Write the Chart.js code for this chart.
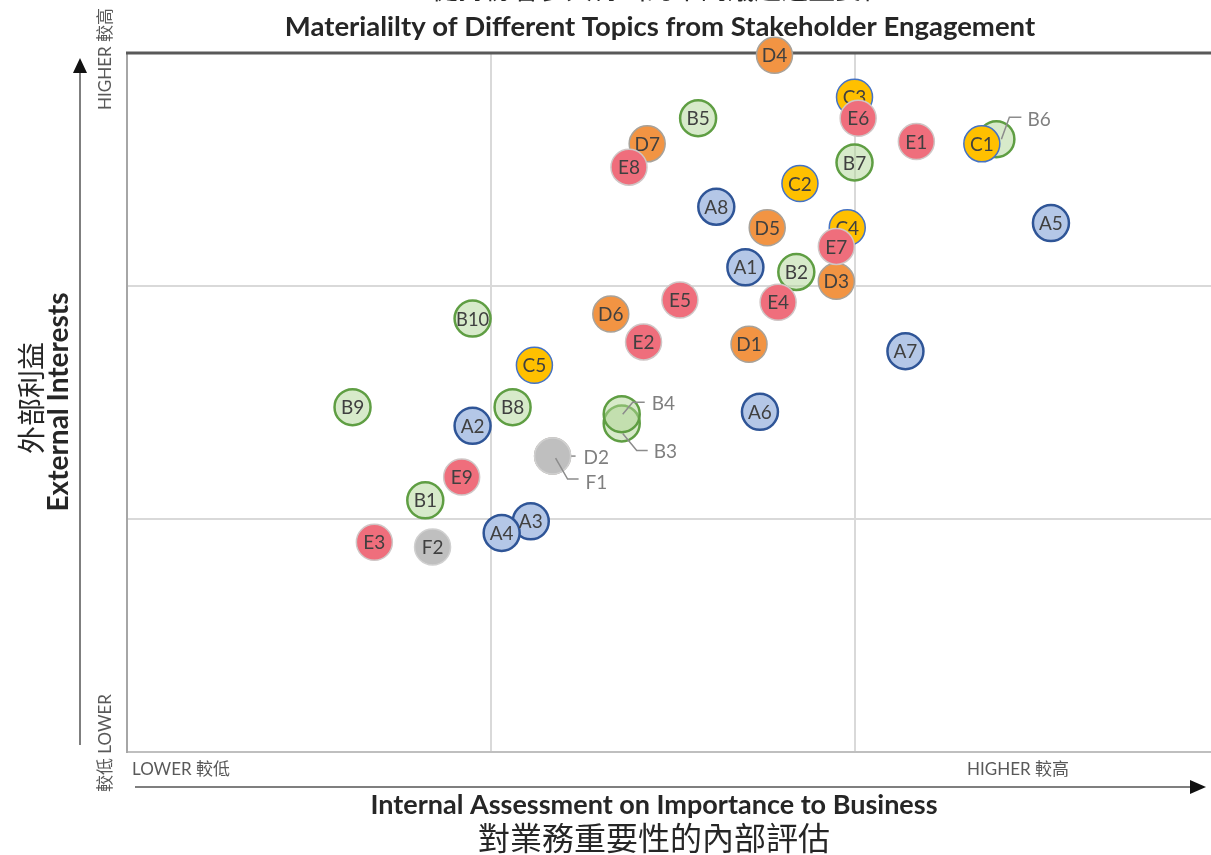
<!DOCTYPE html>
<html>
<head>
<meta charset="utf-8">
<script src="https://cdn.jsdelivr.net/npm/chart.js@4"></script>
<style>
  body { margin: 0; background: #fff; overflow: hidden; }
  #wrap { width: 1211px; height: 855px; position: relative; }
</style>
</head>
<body>
<div id="wrap"><canvas id="matriz"></canvas></div>
<script>
// Temas por grupo: nombre, evaluación interna (x), interés externo (y)
const aNames = ['A1', 'A2', 'A3', 'A4', 'A5', 'A6', 'A7', 'A8'];
const aX = [1.70, 0.95, 1.11, 1.03, 2.54, 1.74, 2.14, 1.62];
const aY = [2.08, 1.40, 0.99, 0.94, 2.27, 1.46, 1.72, 2.34];

const bNames = ['B1', 'B2', 'B3', 'B4', 'B5', 'B6', 'B7', 'B8', 'B9', 'B10'];
const bX = [0.82, 1.84, 1.36, 1.36, 1.57, 2.39, 2.00, 1.06, 0.62, 0.95];
const bY = [1.08, 2.06, 1.41, 1.45, 2.72, 2.63, 2.53, 1.48, 1.48, 1.86];

const cNames = ['C1', 'C2', 'C3', 'C4', 'C5'];
const cX = [2.35, 1.85, 2.00, 1.98, 1.12];
const cY = [2.61, 2.44, 2.81, 2.25, 1.66];

const dNames = ['D1', 'D2', 'D3', 'D4', 'D5', 'D6', 'D7'];
const dX = [1.71, 1.17, 1.95, 1.78, 1.76, 1.33, 1.43];
const dY = [1.75, 1.27, 2.02, 2.99, 2.25, 1.88, 2.61];

const eNames = ['E1', 'E2', 'E3', 'E4', 'E5', 'E6', 'E7', 'E8', 'E9'];
const eX = [2.17, 1.42, 0.68, 1.79, 1.52, 2.01, 1.95, 1.38, 0.92];
const eY = [2.62, 1.76, 0.90, 1.93, 1.94, 2.72, 2.17, 2.51, 1.18];

const fNames = ['F1', 'F2'];
const fX = [1.17, 0.84];
const fY = [1.27, 0.88];

// etiquetas con línea guía (desplazamientos en px)
const guias = {
  B6: [[5, 0], [13, -22], [25, -22], [31, -19]],
  B4: [[1, 0], [11, -12], [23, -12], [30, -10]],
  B3: [[1, 10], [15, 27], [26, 27], [32, 28]],
  D2: [[1, 0], [23, 0], [23, 0], [31, 2]],
  F1: [[3, 2], [15, 23], [26, 23], [33, 27]]
};

function serie(names, xs, ys, fill, border, bw, order) {
  return {
    label: names[0].charAt(0),
    names,
    data: xs.map((x, i) => ({ x, y: ys[i] })),
    backgroundColor: fill,
    borderColor: border,
    borderWidth: bw,
    pointRadius: 18,
    pointHoverRadius: 18,
    clip: false,
    order
  };
}

const datasets = [
  serie(bNames, bX, bY, 'rgba(176,214,150,0.5)', '#5f9e43', 2.5, 6),
  serie(aNames, aX, aY, '#b4c7e7', '#2f5597', 2.5, 5),
  serie(cNames, cX, cY, '#ffc000', '#4472c4', 1.5, 4),
  serie(dNames, dX, dY, '#f29443', '#a8a29a', 1.5, 3),
  serie(eNames, eX, eY, '#ef6e7c', '#cfc6c6', 1.5, 2),
  serie(fNames, fX, fY, '#bfbfbf', '#d0d0d0', 1.5, 1)
];

const etiquetas = {
  id: 'etiquetas',
  beforeDatasetsDraw(chart) {
    const { ctx, chartArea } = chart;
    ctx.save();
    ctx.strokeStyle = '#595959';
    ctx.lineWidth = 3;
    ctx.beginPath();
    ctx.moveTo(chartArea.left - 1, chartArea.top);
    ctx.lineTo(chartArea.right, chartArea.top);
    ctx.stroke();
    ctx.restore();
  },
  afterDatasetDraw(chart, args) {
    const { ctx } = chart;
    const ds = chart.data.datasets[args.index];
    ctx.save();
    ctx.font = "19px Lato, 'Noto Sans'";
    ctx.textAlign = 'center';
    ctx.textBaseline = 'middle';
    args.meta.data.forEach((el, i) => {
      const name = ds.names[i];
      const g = guias[name];
      if (g) {
        ctx.strokeStyle = '#8c8c8c';
        ctx.lineWidth = 1.5;
        ctx.beginPath();
        ctx.moveTo(el.x + g[0][0], el.y + g[0][1]);
        ctx.lineTo(el.x + g[1][0], el.y + g[1][1]);
        ctx.lineTo(el.x + g[2][0], el.y + g[2][1]);
        ctx.stroke();
        ctx.fillStyle = '#7f7f7f';
        ctx.textAlign = 'left';
        ctx.fillText(name, el.x + g[3][0], el.y + g[3][1]);
        ctx.textAlign = 'center';
      } else if (name !== 'D2') {
        ctx.fillStyle = '#404040';
        ctx.fillText(name, el.x, el.y + 1, 33);
      }
    });
    ctx.restore();
  },
  afterDraw(chart) {
    const { ctx } = chart;
    ctx.save();
    ctx.fillStyle = '#262626';
    ctx.textAlign = 'center';
    ctx.textBaseline = 'middle';

    // títulos
    ctx.font = "27px 'Noto Sans CJK TC'";
    ctx.fillText('從持份者參與得出的不同議題之重要性', 660, -11, 458);
    ctx.font = "bold 27.5px Lato";
    ctx.fillText('Materialilty of Different Topics from Stakeholder Engagement', 660, 27, 756);

    ctx.font = "bold 27px Lato";
    ctx.fillText('Internal Assessment on Importance to Business', 654, 805, 582);
    ctx.font = "32px 'Noto Sans CJK TC'";
    ctx.fillText('對業務重要性的內部評估', 654, 838, 354);

    ctx.save();
    ctx.translate(59, 402);
    ctx.rotate(-Math.PI / 2);
    ctx.font = "bold 28px Lato";
    ctx.fillText('External Interests', 0, 0, 219);
    ctx.restore();
    ctx.save();
    ctx.translate(31, 398);
    ctx.rotate(-Math.PI / 2);
    ctx.font = "28px 'Noto Sans CJK TC'";
    ctx.fillText('外部利益', 0, 0, 114);
    ctx.restore();

    // extremos de los ejes
    ctx.fillStyle = '#595959';
    ctx.font = "17px Lato, 'Noto Sans CJK TC'";
    ctx.textAlign = 'left';
    ctx.fillText('LOWER 較低', 132, 770);
    ctx.fillText('HIGHER 較高', 967, 770);
    ctx.save();
    ctx.translate(106, 110);
    ctx.rotate(-Math.PI / 2);
    ctx.fillText('HIGHER 較高', 0, 0);
    ctx.restore();
    ctx.save();
    ctx.translate(106, 792);
    ctx.rotate(-Math.PI / 2);
    ctx.fillText('較低 LOWER', 0, 0);
    ctx.restore();

    // flechas
    ctx.strokeStyle = '#7f7f7f';
    ctx.lineWidth = 2;
    ctx.beginPath();
    ctx.moveTo(80, 745);
    ctx.lineTo(80, 70);
    ctx.moveTo(135, 787);
    ctx.lineTo(1192, 787);
    ctx.stroke();
    ctx.fillStyle = '#111';
    ctx.beginPath();
    ctx.moveTo(80, 58);
    ctx.lineTo(73, 73);
    ctx.lineTo(87, 73);
    ctx.closePath();
    ctx.fill();
    ctx.beginPath();
    ctx.moveTo(1206, 787);
    ctx.lineTo(1190, 780);
    ctx.lineTo(1190, 794);
    ctx.closePath();
    ctx.fill();
    ctx.restore();
  }
};

const gridColor = (c) => (c.tick && (c.tick.value === 1 || c.tick.value === 2)) ? '#d9d9d9' : 'rgba(0,0,0,0)';

new Chart(document.getElementById('matriz'), {
  type: 'scatter',
  data: { datasets },
  options: {
    responsive: true,
    maintainAspectRatio: false,
    animation: false,
    events: [],
    layout: { autoPadding: false, padding: { left: 127, top: 53, right: 0, bottom: 103 } },
    plugins: {
      legend: { display: false },
      tooltip: { enabled: false }
    },
    scales: {
      x: {
        min: 0,
        max: 2.98,
        ticks: { display: false, stepSize: 1 },
        grid: { color: gridColor, lineWidth: 2, drawTicks: false },
        border: { display: true, color: '#bfbfbf', width: 2 }
      },
      y: {
        min: 0,
        max: 3,
        ticks: { display: false, stepSize: 1 },
        grid: { color: gridColor, lineWidth: 2, drawTicks: false },
        border: { display: true, color: '#a6a6a6', width: 2 }
      }
    }
  },
  plugins: [etiquetas]
});
</script>
</body>
</html>
